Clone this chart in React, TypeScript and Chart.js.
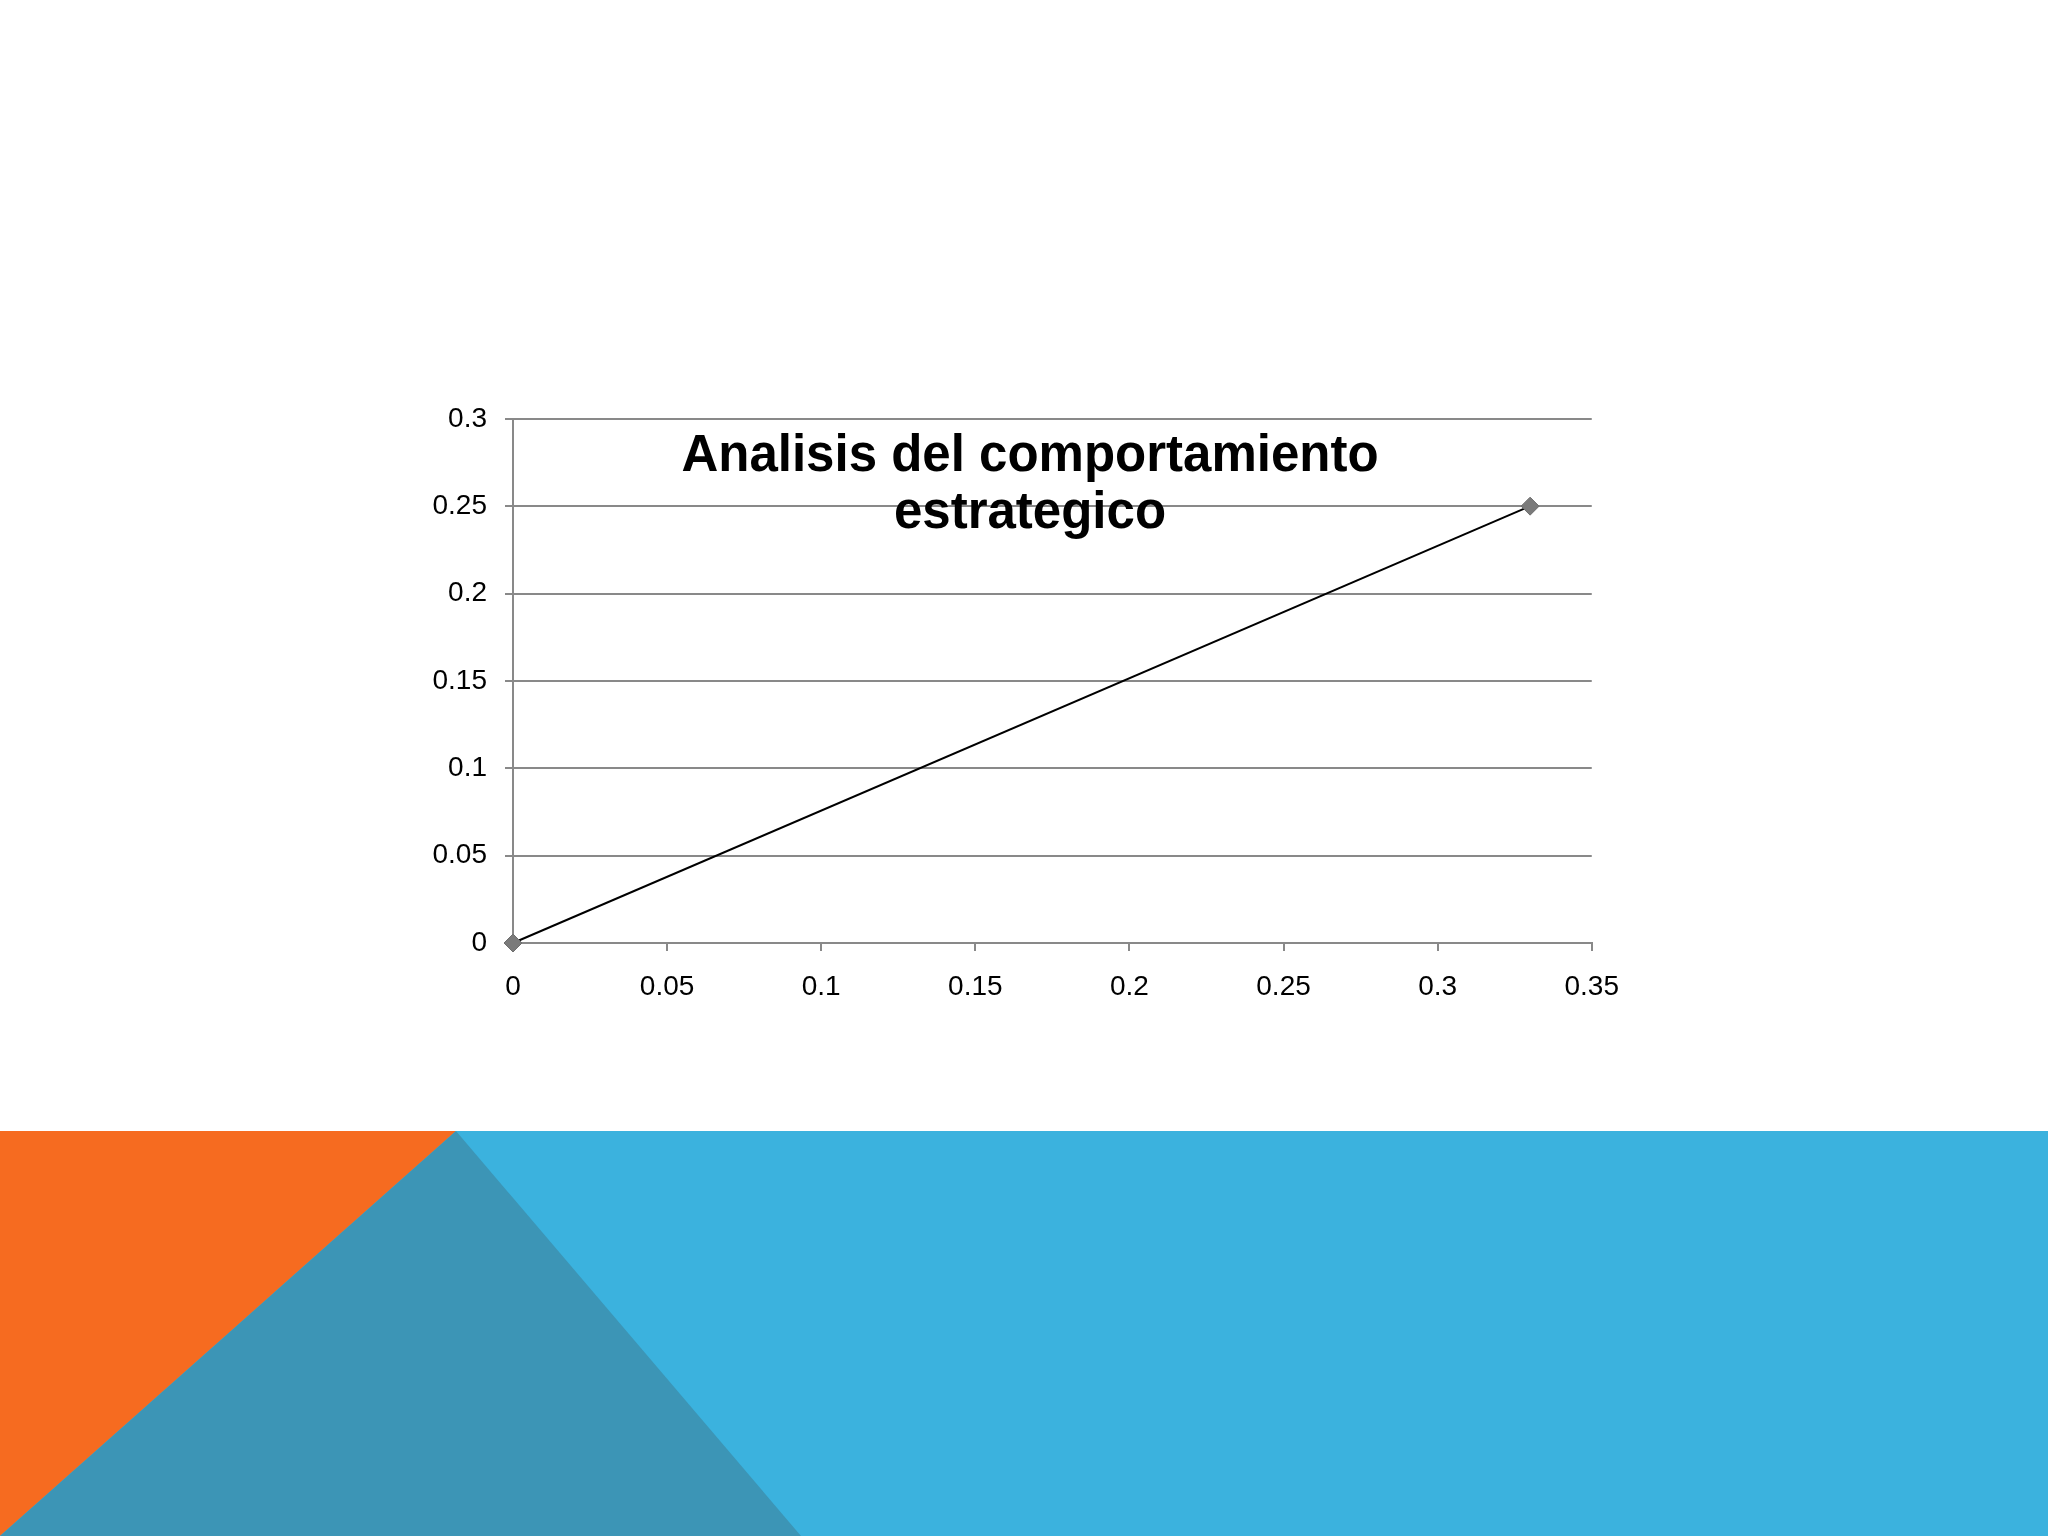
import { useEffect, useRef } from "react"
import { Chart, registerables } from "chart.js"

Chart.register(...registerables)

const titleLines = ["Analisis del comportamiento", "estrategico"]
const xValues = [0, 0.33]
const yValues = [0, 0.25]
const xTickLabels = ["0", "0.05", "0.1", "0.15", "0.2", "0.25", "0.3", "0.35"]
const yTickLabels = ["0", "0.05", "0.1", "0.15", "0.2", "0.25", "0.3"]

const GRID = "#898989"
const TICK_FONT = { family: "'Liberation Sans', Arial, sans-serif", size: 28 }

// title sits inside the plot area, like the original slide
const titlePlugin = {
  id: "insideTitle",
  afterDraw(chart: Chart) {
    const { ctx, chartArea } = chart
    ctx.save()
    ctx.fillStyle = "#000"
    ctx.font = "bold 51px 'Liberation Sans', Arial, sans-serif"
    ctx.textAlign = "center"
    ctx.textBaseline = "alphabetic"
    const cx = chartArea.left + 517
    titleLines.forEach((line, i) => {
      ctx.fillText(line, cx, chartArea.top + 52 + i * 57)
    })
    ctx.restore()
  },
}

function LineChart() {
  const chartRef = useRef<HTMLCanvasElement>(null)
  const chartInstance = useRef<Chart | null>(null)

  useEffect(() => {
    const canvas = chartRef.current
    if (!canvas) return
    const ctx = canvas.getContext("2d")
    if (!ctx) return

    if (chartInstance.current) {
      chartInstance.current.destroy()
    }

    chartInstance.current = new Chart(ctx, {
      type: "scatter",
      data: {
        datasets: [
          {
            label: "Series 1",
            data: xValues.map((x, i) => ({ x, y: yValues[i] })),
            showLine: true,
            clip: false,
            borderColor: "#000",
            borderWidth: 2,
            pointStyle: "rectRot",
            pointRadius: 9,
            pointBackgroundColor: "#7a7a7a",
            pointBorderColor: "#6e6e6e",
            pointBorderWidth: 1,
          },
        ],
      },
      options: {
        animation: false,
        responsive: true,
        maintainAspectRatio: false,
        layout: { padding: { top: 20, right: 40, left: 0, bottom: 0 } },
        plugins: {
          legend: { display: false },
          title: { display: false },
          tooltip: { enabled: false },
        },
        scales: {
          x: {
            type: "linear",
            min: 0,
            max: 0.35,
            ticks: {
              stepSize: 0.05,
              color: "#000",
              font: TICK_FONT,
              padding: 19,
              callback: (_v: any, i: number) => xTickLabels[i],
            },
            grid: {
              drawOnChartArea: false,
              drawTicks: true,
              tickLength: 8,
              color: GRID,
              lineWidth: 2,
            },
            border: { color: GRID, width: 2 },
            afterFit: (scale: any) => {
              scale.height = 60
            },
          },
          y: {
            type: "linear",
            min: 0,
            max: 0.3,
            ticks: {
              stepSize: 0.05,
              color: "#000",
              font: TICK_FONT,
              padding: 18,
              callback: (_v: any, i: number) => yTickLabels[i],
            },
            grid: {
              drawTicks: true,
              tickLength: 8,
              color: GRID,
              lineWidth: 2,
            },
            border: { color: GRID, width: 2 },
            afterFit: (scale: any) => {
              scale.width = 80
            },
          },
        },
      },
      plugins: [titlePlugin],
    })

    return () => {
      if (chartInstance.current) {
        chartInstance.current.destroy()
        chartInstance.current = null
      }
    }
  }, [])

  return (
    <div style={{ position: "absolute", left: 433, top: 384, width: 1205, height: 619 }}>
      <canvas ref={chartRef}></canvas>
    </div>
  )
}

export default function App() {
  return (
    <div style={{ position: "absolute", left: 0, top: 0, width: 2048, height: 1536, background: "#fff", overflow: "hidden" }}>
      <LineChart />
      <svg
        width={2048}
        height={405}
        style={{ position: "absolute", left: 0, top: 1131, display: "block" }}
      >
        <rect x={0} y={0} width={2048} height={405} fill="#3BB2DE" />
        <polygon points="0,0 456,0 0,405" fill="#F66B20" />
        <polygon points="456,0 0,405 801,405" fill="#3C95B6" />
      </svg>
    </div>
  )
}
